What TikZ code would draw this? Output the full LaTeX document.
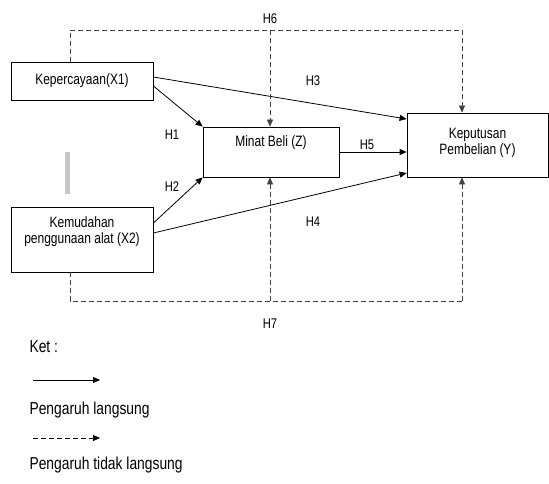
\documentclass[tikz,border=0pt]{standalone}
\usepackage{fontspec}
\setmainfont{Liberation Sans}[FakeStretch=0.8]
\usepackage{xcolor}
\usetikzlibrary{arrows.meta}
\tikzset{
    model/.style={
        x=1pt, y=-1pt,
        >={Triangle[length=7pt, width=6pt]},
        box/.style={draw, rectangle, line width=0.8pt, text centered, align=center, font=\fontsize{15}{16}\selectfont},
        direct/.style={line width=0.8pt, ->},
        indirect/.style={line width=0.8pt, draw=black!75, dash pattern=on 5pt off 3pt},
        hyp/.style={font=\fontsize{14}{15}\selectfont},
        legend/.style={anchor=west, font=\fontsize{17.3}{19}\selectfont}
    }
}

\begin{document}
\begin{tikzpicture}[model]
        \useasboundingbox (0,0) rectangle (549,484);

        % Variables
        \node[box, minimum width=142pt, minimum height=38pt] (kep) at (82,81) {Kepercayaan(X1)};
        \node[box, minimum width=142pt, minimum height=65pt, text depth=18pt] (kem) at (82,239.5) {Kemudahan\\penggunaan alat (X2)};
        \node[box, minimum width=136pt, minimum height=50pt, text depth=21pt] (minat) at (271,152) {Minat Beli (Z)};
        \node[box, minimum width=141pt, minimum height=64pt, text depth=8pt] (kepu) at (477.5,145) {Keputusan\\Pembelian (Y)};

        % Grey mark
        \fill[black!22] (65,152) rectangle (70,194);

        % Direct effects
        \draw[direct] ([yshift=-5pt]kep.east) -- (minat.north west);
        \draw[direct] ([yshift=4pt]kep.east) -- ([yshift=26pt]kepu.west);
        \draw[direct] ([yshift=16.5pt]kem.east) -- (minat.south west);
        \draw[direct] ([yshift=6.5pt]kem.east) -- ([yshift=-28pt]kepu.west);
        \draw[direct] (minat.east) -- (minat.east -| kepu.west);

        % Indirect effects (top)
        \coordinate (topL) at (70,30);
        \coordinate (topM) at (270,30);
        \coordinate (topR) at (462,30);
        \draw[indirect] (topL |- kep.north) -- (topL) -- (topR);
        \draw[indirect, ->] (topR) -- (topR |- kepu.north);
        \draw[indirect, ->] (topM) -- (topM |- minat.north);

        % Indirect effects (bottom)
        \coordinate (botL) at (70,301);
        \coordinate (botM) at (270,301);
        \coordinate (botR) at (462,301);
        \draw[indirect] (botL |- kem.south) -- (botL) -- (botR);
        \draw[indirect, ->] (botR) -- (botR |- kepu.south);
        \draw[indirect, ->] (botM) -- (botM |- minat.south);

        % Hypotheses
        \node[hyp] (h1) at (172,135) {H1};
        \node[hyp] (h2) at (172,187) {H2};
        \node[hyp] (h3) at (313,81) {H3};
        \node[hyp] (h4) at (313,222) {H4};
        \node[hyp] (h5) at (367,145) {H5};
        \node[hyp] (h6) at (270,19) {H6};
        \node[hyp] (h7) at (270,324) {H7};

        % Legend
        \node[legend] (ket) at (26,347) {Ket :};
        \coordinate (solidA) at (33,380);
        \coordinate (solidB) at (100,380);
        \draw[direct] (solidA) -- (solidB);
        \node[legend] (lang) at (26,410) {Pengaruh langsung};
        \coordinate (dashA) at (33,438);
        \coordinate (dashB) at (100,438);
        \draw[indirect, draw=black, ->] (dashA) -- (dashB);
        \node[legend] (tlang) at (26,465) {Pengaruh tidak langsung};
    \end{tikzpicture}
\end{document}
